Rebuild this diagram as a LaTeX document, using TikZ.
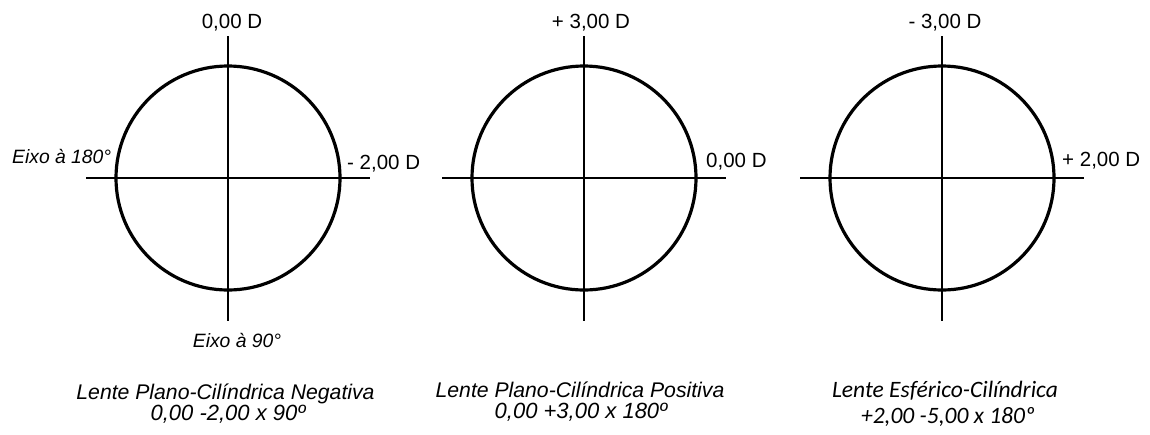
\documentclass[tikz,border=0pt]{standalone}
\usepackage{fontspec}
\usetikzlibrary{calc}
\setmainfont{Liberation Sans}
\newfontfamily\calibfont{Carlito}
\begin{document}
\begin{tikzpicture}[x=1pt,y=-1pt,
  lens/.style={line width=3.2pt},
  axisline/.style={line width=1.8pt},
  lbl/.style={inner sep=0pt,font=\fontsize{20.5}{24}\selectfont},
  ilbl/.style={inner sep=0pt,font=\fontsize{19.3}{24}\selectfont\itshape},
  nlbl/.style={inner sep=0pt,font=\fontsize{21.2}{24}\selectfont\itshape},
  vlbl/.style={inner sep=0pt,font=\fontsize{22}{24}\selectfont\itshape},
  clbl/.style={inner sep=0pt,font=\fontsize{23.5}{26}\selectfont\calibfont\itshape}]
\useasboundingbox (0,0) rectangle (1150,434);
% centers
\coordinate (c1) at (228,178);
\coordinate (c2) at (584,178);
\coordinate (c3) at (942,178);
\foreach \c/\n in {c1/a,c2/b,c3/c}{
  \coordinate (\n T) at ($(\c)+(0,-142)$);
  \coordinate (\n B) at ($(\c)+(0,143)$);
  \coordinate (\n L) at ($(\c)+(-142,0)$);
  \coordinate (\n R) at ($(\c)+(142,0)$);
  \draw[axisline] (\n T) -- (\n B);
  \draw[axisline] (\n L) -- (\n R);
  \draw[lens] (\c) circle[radius=112];
}
% labels lens 1
\node[lbl,anchor=base] (t1) at (232,28) {0,00 D};
\node[lbl,anchor=base west] (r1) at (347,169) {- 2,00 D};
\node[ilbl,anchor=base west] (e180) at (12,163) {Eixo à 180°};
\node[ilbl,anchor=base] (e90) at (237,347) {Eixo à 90°};
\node[nlbl,anchor=base] (n1a) at (225.5,399) {Lente Plano-Cilíndrica Negativa};
\node[vlbl,anchor=base] (n1b) at (228,420) {0,00 -2,00 x 90º};
% labels lens 2
\node[lbl,anchor=base] (t2) at (591,28) {+ 3,00 D};
\node[lbl,anchor=base west] (r2) at (706,167) {0,00 D};
\node[nlbl,anchor=base] (n2a) at (580,397) {Lente Plano-Cilíndrica Positiva};
\node[vlbl,anchor=base] (n2b) at (581,418) {0,00 +3,00 x 180º};
% labels lens 3
\node[lbl,anchor=base] (t3) at (945,28) {- 3,00 D};
\node[lbl,anchor=base west] (r3) at (1062,166) {+ 2,00 D};
\node[clbl,anchor=base] (n3a) at (945,397) {Lente Esférico-Cilíndrica};
\node[clbl,anchor=base] (n3b) at (948,423) {+2,00 -5,00 x 180º};
\end{tikzpicture}
\end{document}
